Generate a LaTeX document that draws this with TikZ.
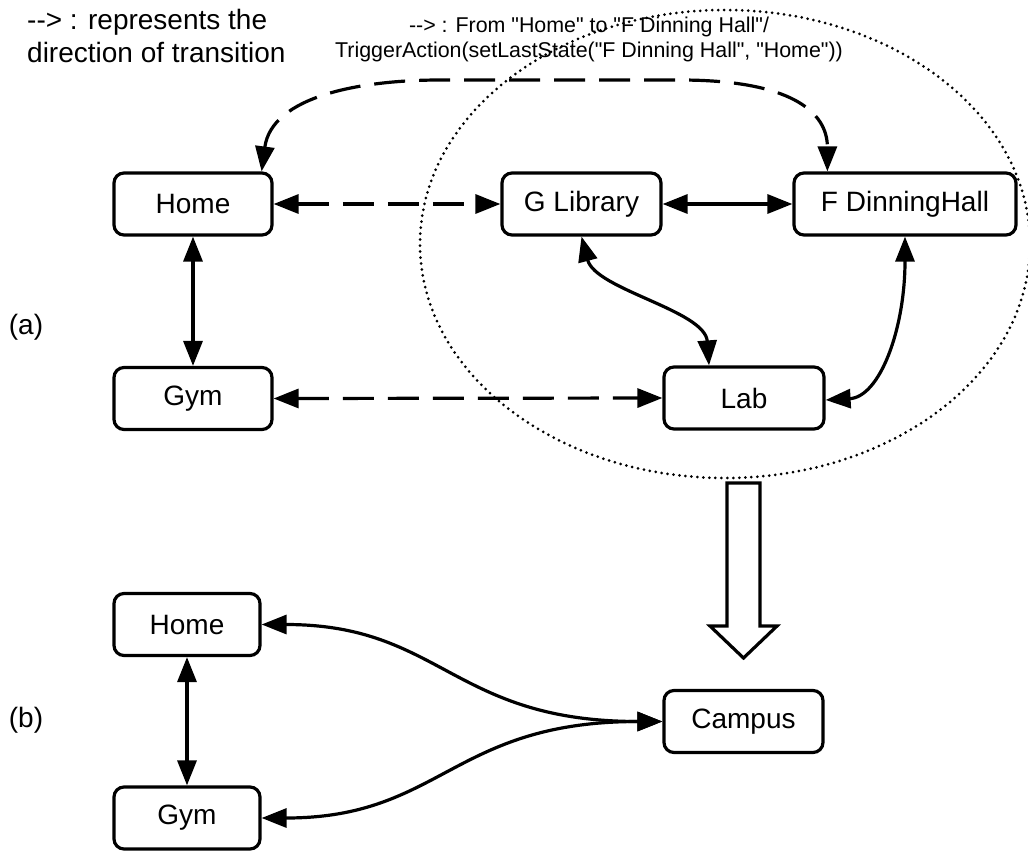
\documentclass[tikz,border=0pt]{standalone}
\usepackage{fontspec}
\setmainfont{Liberation Sans}[Ligatures=TeXOff]
\usetikzlibrary{arrows.meta}

\begin{document}
\begin{tikzpicture}[x=1pt,y=-1pt,
  state/.style={draw, line width=3.2pt, rounded corners=10pt, fill=white,
    minimum height=62pt, inner sep=0pt, font=\fontsize{28}{32}\selectfont},
  tip/.tip={Triangle[length=25pt,width=19pt]},
  link/.style={line width=3.2pt, tip-tip},
  dashlink/.style={link, dash pattern=on 31pt off 14pt},
  region/.style={line width=3pt, line cap=round, dash pattern=on 0pt off 6pt},
  bigarrow/.style={line width=3.2pt, line join=miter, fill=white},
  side/.style={font=\fontsize{28}{32}\selectfont, inner sep=0pt},
]
\useasboundingbox (0,0) rectangle (1028,852);

% campus region grouping the four campus states
\draw[region] (725,244) ellipse [x radius=305pt, y radius=234pt];

% annotations
\node[anchor=north west, align=left, inner sep=0pt,
      font=\fontsize{28}{33}\selectfont] (legend) at (27,9)
  {--> : represents the\\direction of transition};
\node[anchor=north, align=center, inner sep=0pt,
      font=\fontsize{21.4}{24.5}\selectfont] (note) at (589,17)
  {--> : From "Home" to "F Dinning Hall"/\\TriggerAction(setLastState("F Dinning Hall", "Home"))};

\node[side] (tagA) at (26,327) {(a)};
\node[side] (tagB) at (26,720) {(b)};

% (a) detailed states
\node[state, minimum width=158pt] (homeA) at (193,204) {Home};
\node[state, minimum width=159pt] (glib)  at (581.5,204) {G Library};
\node[state, minimum width=222pt] (fdh)   at (905,204) {F DinningHall};
\node[state, minimum width=158pt] (gymA)  at (193,398.5) {Gym};
\node[state, minimum width=160pt] (lab)   at (744,398) {Lab};

% (b) abstracted states
\node[state, minimum width=146pt] (homeB)  at (187,624.5) {Home};
\node[state, minimum width=146pt] (gymB)   at (187,818) {Gym};
\node[state, minimum width=159pt] (campus) at (743.5,721.5) {Campus};

% (a) transitions
\draw[dashlink] (homeA.east) -- (glib.west);
\draw[link] (glib.east) -- (fdh.west);
\draw[link] (homeA.south) -- (gymA.north);
\draw[dashlink] (gymA.east) -- (lab.west);
\draw[link] (glib.south) .. controls +(14,53) and +(-4,-55) .. ([xshift=-35pt]lab.north);
\draw[link] (fdh.south) .. controls +(0,93) and +(54,-3) .. ([yshift=-2pt]lab.east);
\draw[dashlink] ([xshift=-12pt]homeA.north east)
  .. controls +(10,-75) and +(-80,0) .. (440,80) -- (680,80)
  .. controls +(110,0) and +(0,-60) .. ([xshift=35pt]fdh.north west);

% abstraction step
\draw[bigarrow] (727,483) -- (727,626) -- (710,626) -- (743.5,658)
  -- (777,626) -- (760,626) -- (760,483) -- cycle;

% (b) transitions
\draw[link] (homeB.south) -- (gymB.north);
\draw[link] (homeB.east) .. controls +(180,0) and +(-210,0) .. (campus.west);
\draw[link] (gymB.east) .. controls +(180,0) and +(-210,0) .. (campus.west);
\end{tikzpicture}
\end{document}
